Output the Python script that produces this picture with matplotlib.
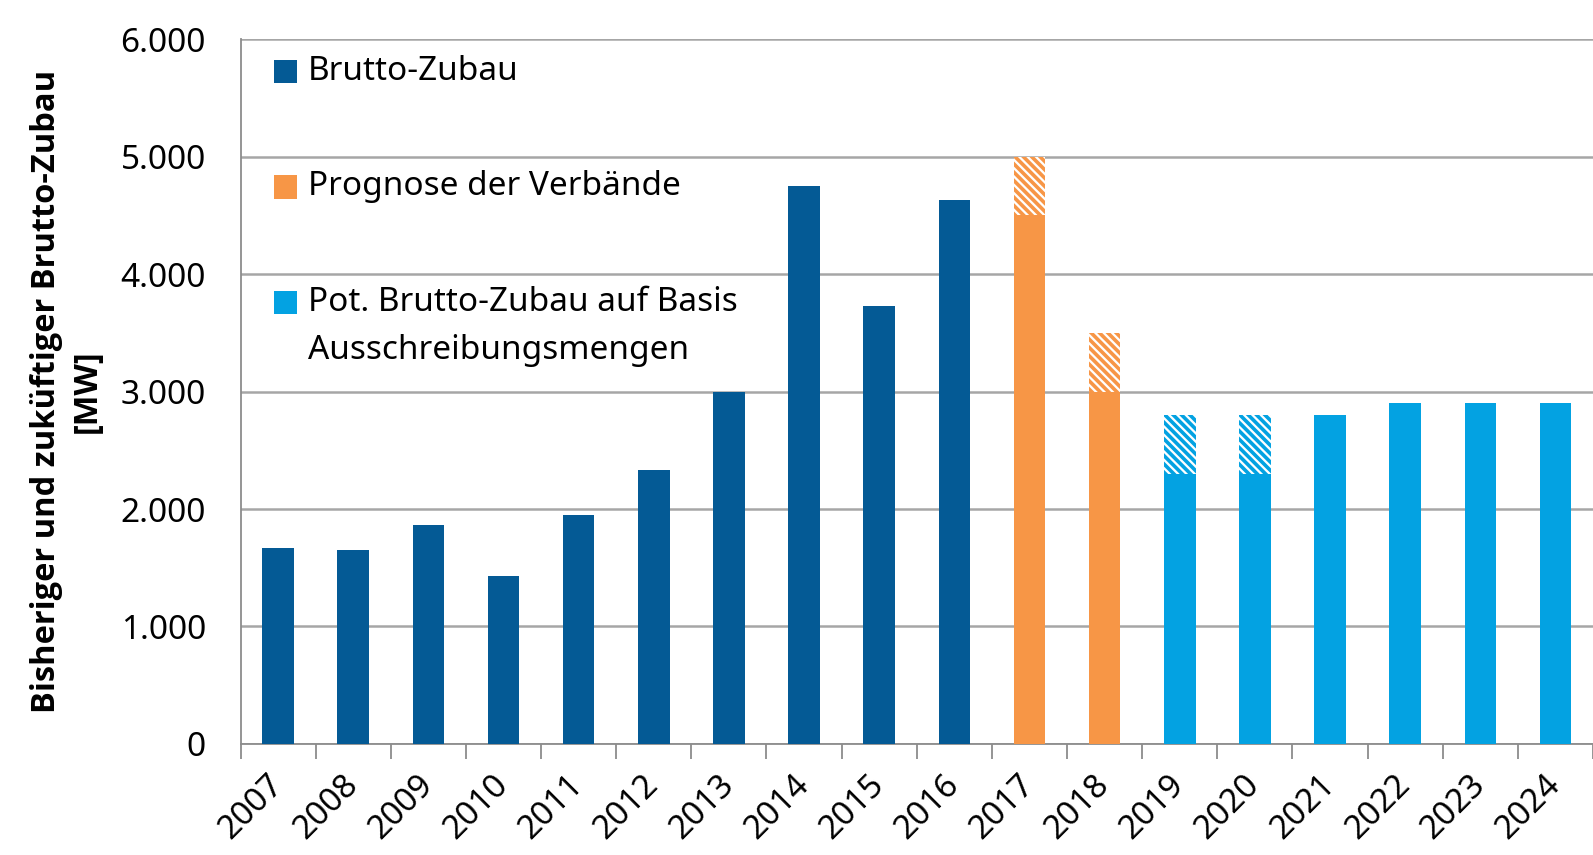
import matplotlib
matplotlib.use("Agg")
import matplotlib.pyplot as plt
from matplotlib.patches import Rectangle
from matplotlib.ticker import FuncFormatter

plt.rcParams['font.family'] = ['Noto Sans', 'DejaVu Sans']
plt.rcParams['hatch.linewidth'] = 2.6

# data (MW)
years = ['2007', '2008', '2009', '2010', '2011', '2012', '2013', '2014', '2015',
         '2016', '2017', '2018', '2019', '2020', '2021', '2022', '2023', '2024']
solid = [1670, 1650, 1860, 1430, 1945, 2330, 3000, 4750, 3730,
         4630, 4500, 3000, 2300, 2300, 2800, 2900, 2900, 2900]
hatched = [0, 0, 0, 0, 0, 0, 0, 0, 0,
           0, 500, 500, 500, 500, 0, 0, 0, 0]
group = ['ist'] * 10 + ['prognose'] * 2 + ['pot'] * 6

colors = {'ist': '#045a95', 'prognose': '#f79646', 'pot': '#03a2e2'}
labels = {'ist': ['Brutto-Zubau'],
          'prognose': ['Prognose der Verbände'],
          'pot': ['Pot. Brutto-Zubau auf Basis', 'Ausschreibungsmengen']}

FS = 24

fig = plt.figure(figsize=(15.93, 8.55), dpi=100)
ax = fig.add_axes([0.151, 0.130, 0.849, 0.824])

x = list(range(len(years)))
bar_w = 0.42
cols = [colors[g] for g in group]
ax.bar(x, solid, width=bar_w, color=cols, zorder=3)
# hatched top part
for i in x:
    if hatched[i] > 0:
        ax.bar(i, hatched[i], bottom=solid[i], width=bar_w, facecolor='white',
               edgecolor=cols[i], hatch='\\\\\\\\', linewidth=0, zorder=3)

ax.set_xlim(-0.5, len(years) - 0.5)
ax.set_ylim(0, 6000)
ax.set_yticks(range(0, 6001, 1000))
ax.yaxis.set_major_formatter(FuncFormatter(lambda v, p: f"{int(v):,}".replace(',', '.')))
ax.grid(axis='y', color='#a6a6a6', linewidth=1.8, zorder=0)
ax.tick_params(axis='y', length=0, pad=25, labelsize=FS)

ax.set_xticks(x)
ax.set_xticklabels(years, rotation=45, ha='right', va='center', rotation_mode='anchor')
ax.set_xticks([i - 0.5 for i in range(len(years) + 1)], minor=True)
ax.tick_params(axis='x', which='major', length=0, pad=26, labelsize=FS)
ax.tick_params(axis='x', which='minor', length=11, width=1.3, color='#8c8c8c')

for s in ['top', 'right']:
    ax.spines[s].set_visible(False)
for s in ['left', 'bottom']:
    ax.spines[s].set_color('#8c8c8c')
    ax.spines[s].set_linewidth(1.3)

ax.set_ylabel('Bisheriger und zuküftiger Brutto-Zubau\n[MW]', fontsize=23.5,
              family=['Open Sans', 'DejaVu Sans'], fontweight='bold',
              labelpad=12, linespacing=1.3)

# legend drawn in axes coordinates
leg_y = {'ist': [0.955], 'prognose': [0.791], 'pot': [0.627, 0.559]}
for key in ['ist', 'prognose', 'pot']:
    y0 = leg_y[key][0]
    ax.add_patch(Rectangle((0.0248, y0 - 0.017), 0.0172, 0.033, transform=ax.transAxes,
                           facecolor=colors[key], edgecolor='none', zorder=5))
    for line, yy in zip(labels[key], leg_y[key]):
        ax.text(0.0496, yy, line, transform=ax.transAxes, fontsize=FS,
                va='center', ha='left', zorder=5)

fig.savefig('out.png', dpi=100)
